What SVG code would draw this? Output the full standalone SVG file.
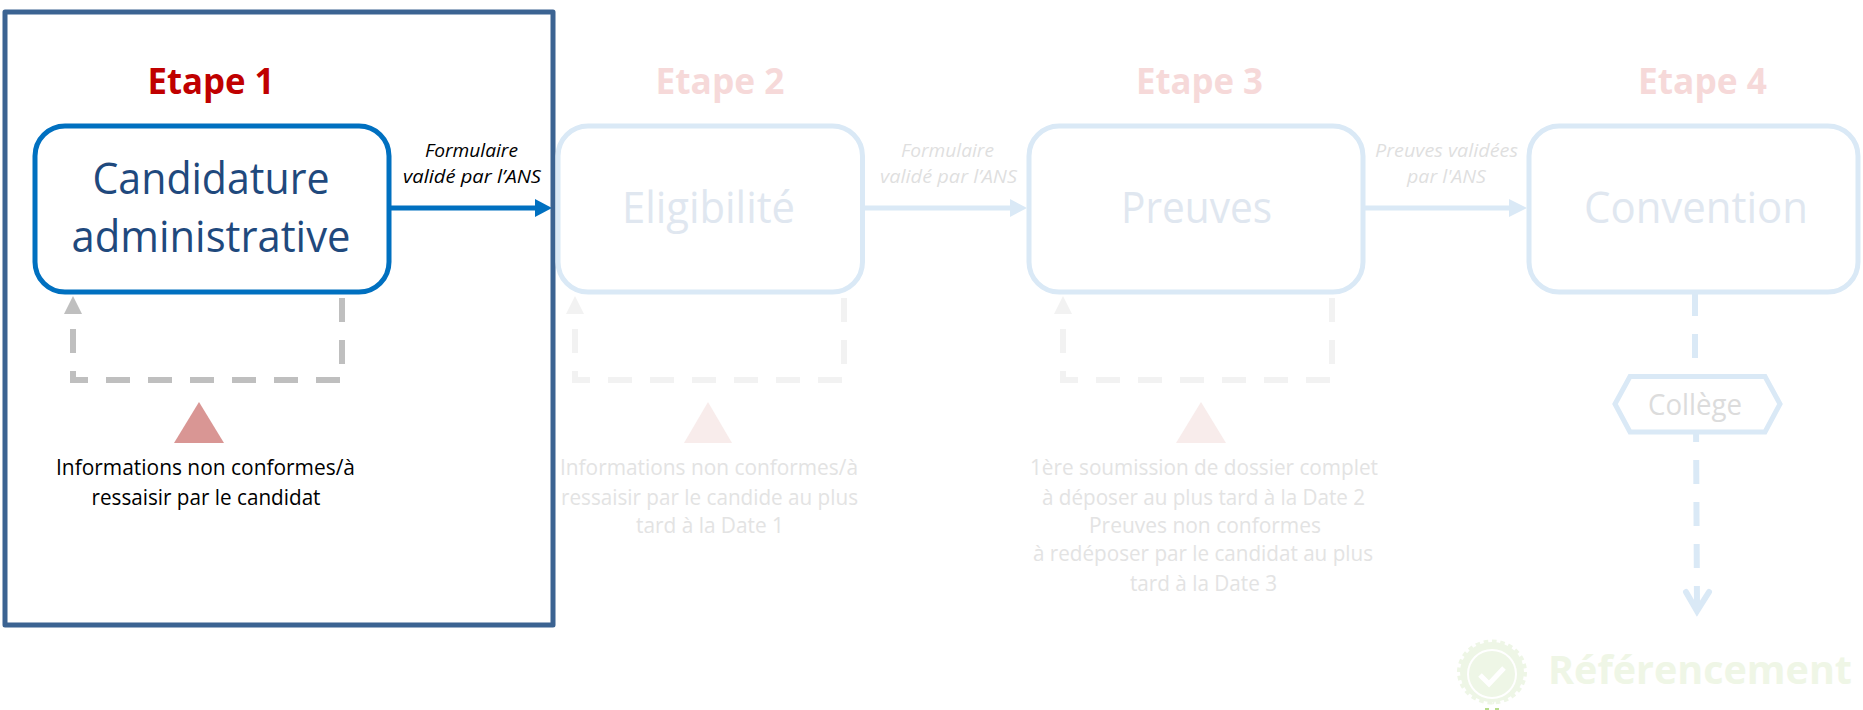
<svg xmlns="http://www.w3.org/2000/svg" width="1863" height="710" viewBox="0 0 1863 710">
<style>
text{font-family:"Open Sans","Liberation Sans",sans-serif;text-anchor:middle}
.n{fill:#fff;stroke-width:5}
.fb{stroke:#DAE9F6;fill:#fff}
.fa{fill:#DAE9F6}
.fl{stroke:#DAE9F6;stroke-width:5;fill:none}
.title{font-size:36px;font-weight:700}
.big{font-size:44px}
.lab{font-size:19px;font-style:italic}
.note{font-size:21px}
.loop{fill:none;stroke-width:6;stroke-dasharray:24 18}
</style>
<rect width="1863" height="710" fill="#fff"/>
<g id="connectors">
<path d="M389 208H537" fill="none" stroke="#0070C0" stroke-width="5"/><polygon points="535,199 552,208 535,217" fill="#0070C0"/>
<path class="fl" d="M864 208H1012"/><polygon class="fa" points="1010,199 1027,208 1010,217"/>
<path class="fl" d="M1363 208H1511"/><polygon class="fa" points="1509,199 1527,208 1509,217"/>
<path class="loop" stroke="#BFBFBF" d="M342 298V380H73V314"/><polygon points="73,296 64,314 82,314" fill="#BFBFBF"/>
<path class="loop" stroke="#F2F2F2" d="M844 298V380H575V314"/><polygon points="575,296 566,314 584,314" fill="#F2F2F2"/>
<path class="loop" stroke="#F2F2F2" d="M1332 298V380H1063V314"/><polygon points="1063,296 1054,314 1072,314" fill="#F2F2F2"/>
<path d="M1695 292V376" fill="none" stroke="#DAE9F6" stroke-width="6" stroke-dasharray="24 18"/>
<path d="M1696 418L1697 610" fill="none" stroke="#DAE9F6" stroke-width="6" stroke-dasharray="24 18"/>
<path d="M1686 592L1697 611L1709 592" fill="none" stroke="#DAE9F6" stroke-width="6" stroke-linecap="round"/>
<polygon points="1697,616 1690,602 1704,602" fill="#DAE9F6"/>
</g>
<g id="frame"><rect x="5" y="12" width="548" height="613" fill="none" stroke="#3B6392" stroke-width="5" stroke-linejoin="round"/></g>
<g id="etape1">
<text class="title" x="211" y="94" fill="#C00000" textLength="127" lengthAdjust="spacingAndGlyphs">Etape 1</text>
<rect class="n" x="35" y="126" width="354" height="166" rx="30" ry="30" stroke="#0070C0"/>
<text class="big" x="211" y="194" fill="#1F497D" textLength="237" lengthAdjust="spacingAndGlyphs">Candidature</text>
<text class="big" x="211" y="252" fill="#1F497D" textLength="279" lengthAdjust="spacingAndGlyphs">administrative</text>
</g>
<g id="label1" fill="#000">
<text class="lab" x="471.500" y="157" textLength="93" lengthAdjust="spacingAndGlyphs">Formulaire</text>
<text class="lab" x="472" y="183" textLength="138" lengthAdjust="spacingAndGlyphs">validé par l’ANS</text>
</g>
<g id="note1" fill="#000">
<polygon points="199,402 174,443 224,443" fill="#D99694"/>
<text class="note" x="205.500" y="475" textLength="299" lengthAdjust="spacingAndGlyphs">Informations non conformes/à</text>
<text class="note" x="206" y="505" textLength="229" lengthAdjust="spacingAndGlyphs">ressaisir par le candidat</text>
</g>
<g id="etape2">
<text class="title" x="720" y="94" fill="#F6D9D9" textLength="129" lengthAdjust="spacingAndGlyphs">Etape 2</text>
<rect class="n fb" x="558" y="126" width="304.500" height="166" rx="30" ry="30"/>
<text class="big" x="708.500" y="223" fill="#E0E7F0" textLength="173" lengthAdjust="spacingAndGlyphs">Eligibilité</text>
</g>
<g id="label2" fill="#DFDFDF">
<text class="lab" x="947.500" y="157" textLength="93" lengthAdjust="spacingAndGlyphs">Formulaire</text>
<text class="lab" x="948.500" y="183" textLength="137" lengthAdjust="spacingAndGlyphs">validé par l’ANS</text>
</g>
<g id="note2" fill="#E3E3E3">
<polygon points="708,402 684,443 732,443" fill="#F8ECEB"/>
<text class="note" x="709" y="475" textLength="298" lengthAdjust="spacingAndGlyphs">Informations non conformes/à</text>
<text class="note" x="709.500" y="505" textLength="297" lengthAdjust="spacingAndGlyphs">ressaisir par le candide au plus</text>
<text class="note" x="710" y="533" textLength="148" lengthAdjust="spacingAndGlyphs">tard à la Date 1</text>
</g>
<g id="etape3">
<text class="title" x="1199.500" y="94" fill="#F6D9D9" textLength="127" lengthAdjust="spacingAndGlyphs">Etape 3</text>
<rect class="n fb" x="1029" y="126" width="334" height="166" rx="30" ry="30"/>
<text class="big" x="1196.500" y="223" fill="#E0E7F0" textLength="151" lengthAdjust="spacingAndGlyphs">Preuves</text>
</g>
<g id="label3" fill="#DFDFDF">
<text class="lab" x="1446.500" y="157" textLength="143" lengthAdjust="spacingAndGlyphs">Preuves validées</text>
<text class="lab" x="1446.500" y="183" textLength="79" lengthAdjust="spacingAndGlyphs">par l'ANS</text>
</g>
<g id="note3" fill="#E3E3E3">
<polygon points="1201,402 1176,443 1226,443" fill="#F8ECEB"/>
<text class="note" x="1204" y="475" textLength="348" lengthAdjust="spacingAndGlyphs">1ère soumission de dossier complet</text>
<text class="note" x="1203.500" y="505" textLength="323" lengthAdjust="spacingAndGlyphs">à déposer au plus tard à la Date 2</text>
<text class="note" x="1205" y="533" textLength="232" lengthAdjust="spacingAndGlyphs">Preuves non conformes</text>
<text class="note" x="1203" y="561" textLength="340" lengthAdjust="spacingAndGlyphs">à redéposer par le candidat au plus</text>
<text class="note" x="1203.500" y="591" textLength="147" lengthAdjust="spacingAndGlyphs">tard à la Date 3</text>
</g>
<g id="etape4">
<text class="title" x="1702.500" y="94" fill="#F6D9D9" textLength="129" lengthAdjust="spacingAndGlyphs">Etape 4</text>
<rect class="n fb" x="1529" y="126" width="329" height="166" rx="30" ry="30"/>
<text class="big" x="1696" y="223" fill="#E0E7F0" textLength="224" lengthAdjust="spacingAndGlyphs">Convention</text>
</g>
<g id="college">
<polygon points="1615,404 1630,376.500 1765,376.500 1780,404 1765,432 1630,432" fill="#fff" stroke="#DAE9F6" stroke-width="5"/>
<text x="1695" y="415" font-size="29" fill="#DCDCDC" textLength="94" lengthAdjust="spacingAndGlyphs">Collège</text>
</g>
<g id="referencement">
<ellipse cx="1492" cy="672" rx="32" ry="30" fill="#EEF6E6"/>
<ellipse cx="1492" cy="672" rx="32.500" ry="30" fill="none" stroke="#EEF6E6" stroke-width="5" pathLength="240" stroke-dasharray="5.500 4.500"/>
<circle cx="1492" cy="674" r="24" fill="none" stroke="#fff" stroke-width="2"/>
<path d="M1480 675L1489 684L1504 668" fill="none" stroke="#fff" stroke-width="5"/>
<rect x="1485" y="708" width="4" height="2" fill="#B7DC8C"/>
<rect x="1495" y="708" width="4" height="2" fill="#B7DC8C"/>
<text x="1700" y="684" font-size="40" font-weight="700" fill="#EFF6E6" textLength="304" lengthAdjust="spacingAndGlyphs">Référencement</text>
</g>
</svg>
